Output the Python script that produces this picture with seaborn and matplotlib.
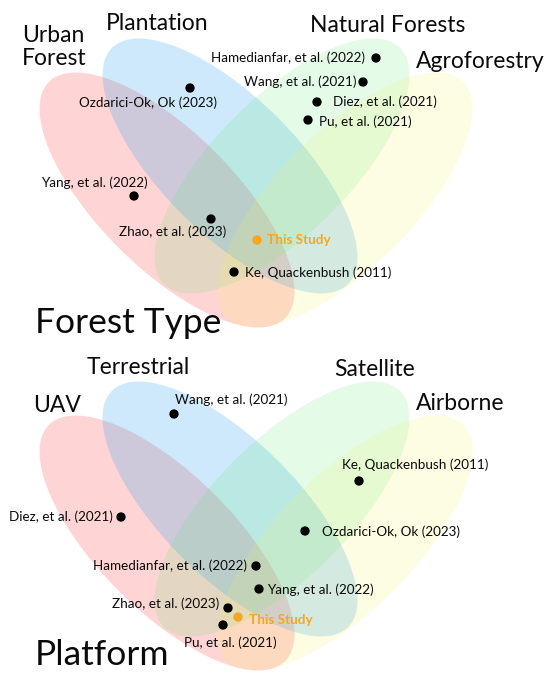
import matplotlib
matplotlib.use("Agg")
import matplotlib.pyplot as plt
from matplotlib.patches import Ellipse
import seaborn as sns
import pandas as pd

sns.set_theme(style="white")
plt.rcParams['font.family'] = ['Lato', 'DejaVu Sans']

# ---------------- data ----------------
top_sets = ["Urban\nForest", "Plantation", "Natural Forests", "Agroforestry"]
bottom_sets = ["UAV", "Terrestrial", "Satellite", "Airborne"]
top_title = "Forest Type"
bottom_title = "Platform"

top_studies = ["Hamedianfar, et al. (2022)", "Wang, et al. (2021)", "Diez, et al. (2021)",
               "Pu, et al. (2021)", "Ozdarici-Ok, Ok (2023)", "Yang, et al. (2022)",
               "Zhao, et al. (2023)", "This Study", "Ke, Quackenbush (2011)"]
top_x = [376, 363, 317, 308, 190, 134, 211, 257, 234]
top_y = [58, 82, 102, 120, 88, 196, 219, 240, 272]

bottom_studies = ["Wang, et al. (2021)", "Ke, Quackenbush (2011)", "Diez, et al. (2021)",
                  "Ozdarici-Ok, Ok (2023)", "Hamedianfar, et al. (2022)", "Yang, et al. (2022)",
                  "Zhao, et al. (2023)", "This Study", "Pu, et al. (2021)"]
bottom_x = [174, 359, 121, 305, 256, 259, 228, 238, 223]
bottom_y = [74, 141, 177, 191, 226, 249, 268, 277, 285]

# ---------------- layout / style ----------------
ORANGE = "#F5A623"
ell_colors = [((1.0, 0.28, 0.28), 0.23), ((0.2, 0.64, 0.95), 0.24),
              ((0.35, 0.92, 0.45), 0.17), ((0.96, 0.96, 0.35), 0.16)]
# ellipse geometry (centre x, centre y, angle) in panel coordinates
ell_geom = [(167, 200, 45), (230, 166, 45), (282, 166, -45), (345, 200, -45)]
ELL_W, ELL_H = 334, 136

# label placement: (dx, dy, ha) relative to the point
top_lab = [(-11, 0, 'right'), (-7, 0, 'right'), (16, 0, 'left'), (11, 2, 'left'),
           (-42, 15, 'center'), (-40, -13, 'center'), (-38, 13, 'center'),
           (10, 0, 'left'), (11, 1, 'left')]
bottom_lab = [(1, -14, 'left'), (56, -16, 'center'), (-8, 0, 'right'), (17, 1, 'left'),
              (-9, 0, 'right'), (8, 1, 'left'), (-9, -4, 'right'), (11, 3, 'left'),
              (7, 18, 'center')]
top_set_pos = [(22, 47, 'left'), (106, 23, 'left'), (310, 25, 'left'), (416, 62, 'left')]
bottom_set_pos = [(33, 66, 'left'), (87, 28, 'left'), (334, 30, 'left'), (416, 63, 'left')]

fig = plt.figure(figsize=(5.5, 6.81), dpi=100)
ax_top = fig.add_axes([0, 341 / 681, 1, 340 / 681])
ax_bot = fig.add_axes([0, 0, 1, 341 / 681])


def draw_panel(ax, hgt, sets, set_pos, studies, xs, ys, labs, title, title_y, dy_ell):
    ax.set_xlim(0, 550)
    ax.set_ylim(hgt, 0)
    ax.set_aspect('equal', adjustable='datalim')
    ax.set_xlim(0, 550)
    ax.set_ylim(hgt, 0)
    for (cx, cy, ang), (col, al) in zip(ell_geom, ell_colors):
        ax.add_patch(Ellipse((cx, cy + dy_ell), ELL_W, ELL_H, angle=ang,
                             facecolor=col, alpha=al, edgecolor='none', zorder=1))
    df = pd.DataFrame({"study": studies, "x": xs, "y": ys})
    df["kind"] = ["this" if s == "This Study" else "other" for s in studies]
    sns.scatterplot(data=df, x="x", y="y", hue="kind",
                    palette={"this": ORANGE, "other": "black"},
                    s=45, edgecolor='none', legend=False, ax=ax, zorder=3)
    for (s, x, y), (dx, dy, ha) in zip(zip(studies, xs, ys), labs):
        if s == "This Study":
            ax.text(x + dx, y + dy, s, ha=ha, va='center', fontsize=9.7,
                    color=ORANGE, fontweight='bold', zorder=4)
        else:
            ax.text(x + dx, y + dy, s, ha=ha, va='center', fontsize=9.7,
                    color='#0a0a0a', zorder=4)
    for name, (x, y, ha) in zip(sets, set_pos):
        ax.text(x, y, name, ha=ha, va='center', fontsize=16.5, color='#0a0a0a',
                linespacing=1.15, zorder=4)
    ax.text(35, title_y, title, ha='left', va='center', fontsize=25.5, color='#0a0a0a', zorder=4)
    ax.set_axis_off()
    ax.set_xlabel("")
    ax.set_ylabel("")


draw_panel(ax_top, 340, top_sets, top_set_pos, top_studies, top_x, top_y, top_lab,
           top_title, 323, 0)
draw_panel(ax_bot, 341, bottom_sets, bottom_set_pos, bottom_studies, bottom_x, bottom_y,
           bottom_lab, bottom_title, 315, 3)

fig.savefig("out.png", dpi=100, facecolor='white')
